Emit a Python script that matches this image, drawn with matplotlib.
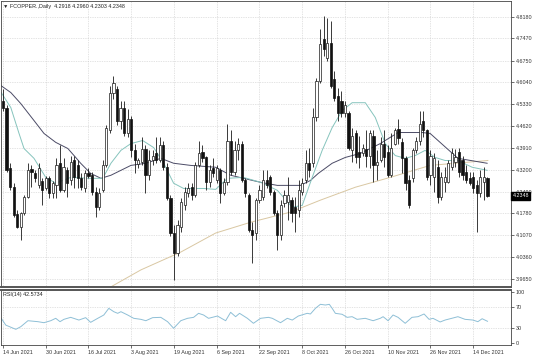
import matplotlib
matplotlib.use("Agg")
import matplotlib.pyplot as plt
import matplotlib.transforms as mtransforms

# ---------------- data ----------------
symbol_title = "\u25BC FCOPPER.,Daily  4.2918 4.2960 4.2303 4.2348"
rsi_title = "RSI(14) 42.5734"

opens = [4.545,4.522,4.324,4.263,4.175,4.133,4.178,4.230,4.321,4.308,
         4.269,4.282,4.259,4.292,4.243,4.269,4.341,4.253,4.318,4.285,
         4.350,4.334,4.292,4.259,4.308,4.302,4.247,4.198,4.253,4.334,
         4.448,4.571,4.584,4.480,4.522,4.441,4.486,4.383,4.337,4.344,
         4.389,4.302,4.350,4.373,4.350,4.399,4.328,4.227,4.114,4.049,
         4.133,4.204,4.243,4.263,4.237,4.334,4.376,4.360,4.279,4.324,
         4.285,4.318,4.243,4.279,4.415,4.311,4.383,4.405,4.285,4.237,
         4.123,4.114,4.221,4.230,4.285,4.295,4.247,4.178,4.107,4.211,
         4.214,4.221,4.198,4.188,4.247,4.285,4.341,4.341,4.490,4.610,
         4.746,4.684,4.733,4.616,4.561,4.545,4.503,4.503,4.383,4.438,
         4.376,4.373,4.389,4.366,4.431,4.334,4.350,4.405,4.376,4.302,
         4.405,4.454,4.409,4.357,4.285,4.292,4.383,4.415,4.480,4.448,
         4.302,4.295,4.328,4.230,4.279,4.279,4.328,4.344,4.376,4.350,
         4.311,4.292,4.295,4.269,4.243,4.279,4.2918]
highs = [4.584,4.529,4.341,4.276,4.188,4.182,4.237,4.341,4.334,4.318,
         4.341,4.292,4.298,4.298,4.282,4.357,4.399,4.357,4.328,4.366,
         4.366,4.350,4.308,4.318,4.324,4.311,4.263,4.259,4.350,4.464,
         4.593,4.626,4.593,4.545,4.545,4.519,4.496,4.405,4.357,4.425,
         4.399,4.383,4.383,4.425,4.425,4.415,4.341,4.237,4.140,4.156,
         4.227,4.263,4.276,4.276,4.344,4.415,4.399,4.366,4.334,4.357,
         4.334,4.324,4.292,4.470,4.448,4.415,4.422,4.415,4.292,4.243,
         4.149,4.227,4.269,4.318,4.318,4.302,4.253,4.188,4.221,4.253,
         4.295,4.230,4.230,4.285,4.292,4.383,4.392,4.522,4.619,4.778,
         4.820,4.814,4.804,4.642,4.587,4.577,4.545,4.512,4.457,4.448,
         4.431,4.405,4.448,4.448,4.448,4.383,4.425,4.448,4.399,4.438,
         4.457,4.486,4.422,4.366,4.302,4.392,4.425,4.512,4.512,4.454,
         4.383,4.373,4.350,4.311,4.328,4.350,4.392,4.389,4.392,4.366,
         4.334,4.311,4.311,4.285,4.318,4.328,4.2960]
lows = [4.512,4.311,4.253,4.166,4.130,4.091,4.172,4.227,4.263,4.279,
        4.259,4.204,4.253,4.227,4.227,4.227,4.247,4.247,4.230,4.269,
        4.259,4.259,4.253,4.247,4.292,4.237,4.166,4.188,4.247,4.328,
        4.438,4.551,4.464,4.454,4.431,4.425,4.360,4.308,4.324,4.334,
        4.243,4.285,4.334,4.341,4.344,4.318,4.221,4.104,3.961,4.039,
        4.117,4.188,4.230,4.221,4.230,4.328,4.344,4.253,4.263,4.295,
        4.276,4.211,4.237,4.269,4.302,4.302,4.350,4.279,4.230,4.117,
        4.016,4.091,4.211,4.221,4.259,4.237,4.172,4.059,4.091,4.198,
        4.156,4.149,4.117,4.166,4.237,4.276,4.295,4.328,4.480,4.603,
        4.691,4.674,4.587,4.545,4.480,4.490,4.490,4.383,4.344,4.341,
        4.324,4.366,4.328,4.324,4.279,4.285,4.344,4.328,4.295,4.295,
        4.399,4.405,4.308,4.253,4.195,4.279,4.373,4.399,4.425,4.285,
        4.269,4.247,4.211,4.221,4.247,4.276,4.318,4.328,4.295,4.285,
        4.276,4.269,4.243,4.117,4.230,4.221,4.2303]
closes = [4.522,4.318,4.263,4.172,4.133,4.178,4.230,4.318,4.311,4.292,
          4.324,4.253,4.292,4.243,4.276,4.334,4.253,4.328,4.276,4.344,
          4.295,4.292,4.263,4.308,4.298,4.247,4.198,4.243,4.334,4.457,
          4.571,4.603,4.480,4.522,4.441,4.486,4.383,4.350,4.350,4.389,
          4.302,4.350,4.366,4.350,4.399,4.328,4.227,4.114,4.049,4.140,
          4.214,4.247,4.259,4.237,4.334,4.373,4.357,4.279,4.318,4.308,
          4.324,4.243,4.279,4.415,4.311,4.383,4.405,4.285,4.243,4.123,
          4.107,4.221,4.253,4.285,4.269,4.247,4.178,4.107,4.204,4.237,
          4.237,4.178,4.178,4.253,4.276,4.341,4.318,4.490,4.610,4.730,
          4.713,4.733,4.593,4.554,4.503,4.503,4.529,4.392,4.431,4.360,
          4.360,4.392,4.366,4.438,4.334,4.344,4.405,4.360,4.302,4.392,
          4.448,4.422,4.357,4.276,4.204,4.383,4.415,4.470,4.448,4.295,
          4.366,4.357,4.230,4.295,4.295,4.341,4.373,4.360,4.311,4.302,
          4.285,4.276,4.259,4.243,4.295,4.295,4.2348]

# moving averages read at anchor bars (bar position, price)
ma_fast_pos = [-0.5,2.2,4.5,5.9,8.7,12.0,14.8,19.0,24.6,28.0,30.3,33.1,35.9,39.2,42.3,45.1,
               47.9,50.7,56.3,59.7,63.0,67.5,72.3,77.0,81.2,84.0,86.8,89.6,92.4,95.2,98.0,
               101.7,104.5,107.3,110.1,112.9,115.7,118.5,121.3,124.1,127.7,131.7,135.9]
ma_fast_val = [4.571,4.522,4.438,4.389,4.357,4.295,4.276,4.295,4.292,4.292,4.341,4.383,4.405,
               4.415,4.392,4.341,4.276,4.259,4.259,4.256,4.292,4.295,4.279,4.253,4.198,4.204,
               4.295,4.383,4.457,4.512,4.538,4.538,4.490,4.405,4.366,4.357,4.366,4.383,4.360,
               4.350,4.350,4.328,4.318]
ma_slow_pos = [-0.5,2.2,5.0,8.7,11.5,14.8,18.2,20.4,21.8,24.6,27.5,30.3,33.1,35.9,40.1,44.3,
               47.9,52.7,59.7,63.9,67.5,72.3,77.0,83.5,86.3,88.5,92.4,96.1,100.3,105.9,110.9,
               117.6,119.9,127.7,135.9]
ma_slow_val = [4.593,4.571,4.535,4.480,4.438,4.409,4.389,4.360,4.341,4.308,4.292,4.302,4.318,
               4.334,4.341,4.357,4.341,4.334,4.328,4.302,4.292,4.279,4.269,4.269,4.285,4.308,
               4.341,4.360,4.373,4.405,4.441,4.441,4.438,4.357,4.341]
ma_long_pos = [25.0,30.3,38.7,49.9,59.7,69.5,80.7,89.1,98.9,108.7,119.9,136.1]
ma_long_val = [3.920,3.939,3.994,4.052,4.114,4.149,4.182,4.221,4.263,4.295,4.334,4.350]

rsi_pos = [-0.5,0.8,3.6,5.0,7.0,9.8,11.5,13.4,14.8,16.0,17.1,19.0,21.3,23.2,24.6,26.6,28.3,29.7,
           31.1,32.2,33.1,35.0,36.7,38.7,40.1,42.0,44.3,46.2,47.9,49.9,51.8,53.5,54.9,56.3,57.7,
           60.2,62.5,63.9,65.3,66.4,68.6,70.3,72.3,74.5,75.6,77.9,79.8,81.2,82.9,85.4,86.3,87.7,
           89.1,90.5,91.6,92.4,93.3,95.2,96.6,98.0,99.4,101.7,103.9,105.9,106.7,108.1,109.5,
           110.9,112.9,114.8,116.5,118.2,119.6,120.7,122.7,124.1,126.3,127.7,129.7,131.9,133.3,
           134.5,136.0]
rsi_val = [48.4,35.0,26.8,32.0,43.7,41.8,39.8,43.7,48.4,41.8,46.4,50.3,45.0,49.7,40.5,48.4,54.9,
           68.0,61.4,58.2,61.4,54.9,48.4,46.4,43.7,49.7,50.3,41.8,28.8,43.7,48.4,50.3,58.2,54.9,
           48.4,52.9,43.7,60.2,51.6,58.2,48.4,38.6,48.4,50.3,48.4,39.8,48.4,45.0,52.9,58.2,56.9,
           68.0,75.9,74.5,75.9,68.0,58.2,56.3,50.3,51.6,46.4,48.4,43.7,48.4,51.6,43.7,54.9,50.3,
           38.6,50.3,51.6,56.9,46.4,48.4,41.2,45.0,49.0,51.6,46.4,45.0,41.8,47.6,42.57]

price_ticks = [4.8180,4.7470,4.6750,4.6040,4.5330,4.4620,4.3910,4.3200,4.2490,4.1780,4.1070,4.0360,3.9650]
date_labels = ["14 Jun 2021","30 Jun 2021","16 Jul 2021","3 Aug 2021","19 Aug 2021","6 Sep 2021",
               "22 Sep 2021","8 Oct 2021","26 Oct 2021","10 Nov 2021","26 Nov 2021","14 Dec 2021"]
date_bar_step = 12
rsi_ticks = [100,70,30,0]

# ---------------- figure ----------------
W, H = 536, 357
fig = plt.figure(figsize=(W/100, H/100), dpi=100)
fig.patch.set_facecolor("white")
FONT = "Liberation Sans"
FS = 3.9

def fx(px):
    return px / W
def fy(py):
    return 1 - py / H

ax = fig.add_axes([fx(1), fy(287), fx(511) - fx(1), fy(1) - fy(287)])
axr = fig.add_axes([fx(1), fy(345), fx(511) - fx(1), fy(290) - fy(345)], sharex=ax)

grid_kw = dict(color="#c9c9c9", linestyle=(0, (1, 1.5)), linewidth=0.5, zorder=0)
n = len(closes)
xs = list(range(n))
date_pos = [i * date_bar_step for i in range(len(date_labels))]

for a in (ax, axr):
    for x in date_pos:
        a.axvline(x, **grid_kw)
for y in price_ticks:
    ax.axhline(y, **grid_kw)
for y in (70, 30):
    axr.axhline(y, **grid_kw)

# candles
bw = 0.62
for i in xs:
    o, h, l, c = opens[i], highs[i], lows[i], closes[i]
    ax.vlines(i, l, h, color="#1a1a1a", linewidth=0.6, zorder=2)
    bottom = min(o, c)
    height = max(abs(c - o), 0.0025)
    if c >= o:
        ax.bar(i, height, bw, bottom=bottom, facecolor="white", edgecolor="#1a1a1a",
               linewidth=0.5, zorder=3)
    else:
        ax.bar(i, height, bw, bottom=bottom, facecolor="#111111", edgecolor="#111111",
               linewidth=0.5, zorder=3)

ax.plot(ma_long_pos, ma_long_val, color="#d9c7a2", linewidth=0.7, zorder=1.5)
ax.plot(ma_slow_pos, ma_slow_val, color="#4b4b66", linewidth=0.7, zorder=1.6)
ax.plot(ma_fast_pos, ma_fast_val, color="#86c4bd", linewidth=0.7, zorder=1.7)

x0 = -0.56
x1 = 142.6
ax.set_xlim(x0, x1)
ax.set_ylim(3.9384, 4.8689)
axr.set_ylim(-4, 104)

axr.plot(rsi_pos, rsi_val, color="#8ebfd6", linewidth=0.7, zorder=2)

# axes styling
for a in (ax, axr):
    for s in a.spines.values():
        s.set_color("#444444")
        s.set_linewidth(0.6)
    a.yaxis.tick_right()
    a.tick_params(axis="y", which="both", direction="out", length=2, width=0.5,
                  colors="#333333", labelsize=FS, pad=1.5)
ax.spines["bottom"].set_linewidth(1.4)
ax.spines["bottom"].set_color("#555555")
axr.spines["top"].set_linewidth(1.4)
axr.spines["top"].set_color("#555555")

ax.set_yticks(price_ticks)
ax.set_yticklabels(["%.4f" % v for v in price_ticks], fontfamily=FONT)
axr.set_yticks(rsi_ticks)
axr.set_yticklabels([str(v) for v in rsi_ticks], fontfamily=FONT)

ax.tick_params(axis="x", which="both", bottom=False, labelbottom=False)
axr.set_xticks(date_pos)
axr.set_xticklabels(date_labels, fontfamily=FONT, fontsize=FS, ha="left", color="#333333")
axr.tick_params(axis="x", direction="out", length=2, width=0.5, colors="#333333", pad=1.5)

# titles
ax.text(0.004, 0.99, symbol_title, transform=ax.transAxes, ha="left", va="top",
        fontsize=FS, fontfamily=[FONT, "DejaVu Sans"], color="#222222")
axr.text(0.004, 0.97, rsi_title, transform=axr.transAxes, ha="left", va="top",
         fontsize=FS, fontfamily=FONT, color="#222222")

# current price marker
trans = mtransforms.blended_transform_factory(ax.transAxes, ax.transData)
ax.text(1.003, closes[-1], "%.4f" % closes[-1], transform=trans, ha="left", va="center",
        fontsize=FS, fontfamily=FONT, color="white", clip_on=False, zorder=10,
        bbox=dict(boxstyle="square,pad=0.25", facecolor="black", edgecolor="black"))

fig.savefig("out.png", dpi=100, facecolor="white")
